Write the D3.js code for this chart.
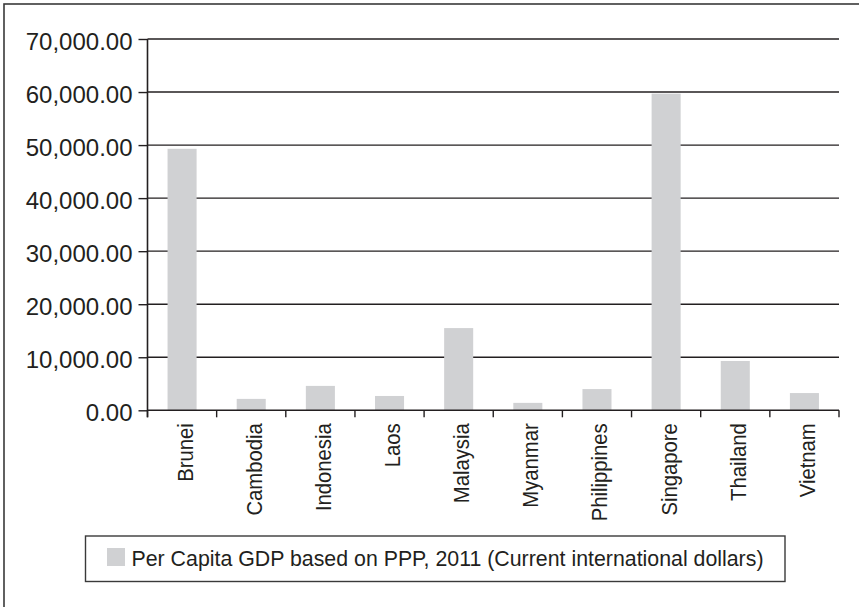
<!DOCTYPE html>
<html>
<head>
<meta charset="utf-8">
<script src="https://cdn.jsdelivr.net/npm/d3@7"></script>
<style>
  html, body { margin: 0; padding: 0; background: #ffffff; }
  svg { display: block; }
  text { font-family: "Liberation Sans", Arial, Helvetica, sans-serif; fill: #231f20; }
</style>
</head>
<body>
<svg id="chart" width="859" height="607"></svg>
<script>
// Per capita GDP (PPP, 2011, current international dollars) for ASEAN members
const countries = ["Brunei", "Cambodia", "Indonesia", "Laos", "Malaysia",
                   "Myanmar", "Philippines", "Singapore", "Thailand", "Vietnam"];
const gdpPerCapita = [49300, 2150, 4600, 2700, 15500, 1400, 4000, 59700, 9300, 3250];
const yTicks = [0, 10000, 20000, 30000, 40000, 50000, 60000, 70000];
const legendLabel = "Per Capita GDP based on PPP, 2011 (Current international dollars)";

const data = countries.map((c, i) => ({ country: c, value: gdpPerCapita[i] }));

const svg = d3.select("#chart");
const ink = "#231f20";
const barFill = "#d0d1d3";

// Outer frame (runs off the right and bottom edges)
svg.append("rect")
  .attr("x", 4).attr("y", 4)
  .attr("width", 900).attr("height", 700)
  .attr("fill", "none")
  .attr("stroke", "#3a3a3a")
  .attr("stroke-width", 1.6);

const plot = { left: 147.5, right: 839, top: 39, bottom: 410.3 };

const x = d3.scaleBand()
  .domain(countries)
  .range([plot.left, plot.right])
  .paddingInner(0.58)
  .paddingOuter(0.29);

const y = d3.scaleLinear()
  .domain([0, 70000])
  .range([plot.bottom, plot.top]);

const fmt = d3.format(",.2f");

// Horizontal gridlines
svg.append("g")
  .selectAll("line")
  .data(yTicks.filter(v => v > 0))
  .join("line")
  .attr("x1", plot.left).attr("x2", plot.right)
  .attr("y1", d => y(d)).attr("y2", d => y(d))
  .attr("stroke", ink)
  .attr("stroke-width", 1.4);

// Bars
svg.append("g")
  .selectAll("rect")
  .data(data)
  .join("rect")
  .attr("x", d => x(d.country))
  .attr("width", x.bandwidth())
  .attr("y", d => y(d.value))
  .attr("height", d => y(0) - y(d.value))
  .attr("fill", barFill);

// Y axis
const yAxis = svg.append("g")
  .attr("transform", `translate(${plot.left},0)`)
  .call(d3.axisLeft(y).tickValues(yTicks).tickFormat(fmt).tickSize(9).tickPadding(6));
yAxis.select(".domain").remove();
yAxis.append("line")
  .attr("x1", 0).attr("x2", 0)
  .attr("y1", plot.top).attr("y2", plot.bottom + 7)
  .attr("stroke", ink).attr("stroke-width", 1.6);
yAxis.selectAll(".tick line").attr("stroke", ink).attr("stroke-width", 1.4);
yAxis.selectAll(".tick text")
  .attr("fill", ink)
  .attr("font-size", "24px")
  .attr("font-family", "Liberation Sans, Arial, sans-serif")
  .attr("dy", "0.42em");

// X axis: baseline, boundary ticks between categories, rotated labels
const xAxis = svg.append("g");
xAxis.append("line")
  .attr("x1", plot.left).attr("x2", plot.right)
  .attr("y1", plot.bottom).attr("y2", plot.bottom)
  .attr("stroke", ink).attr("stroke-width", 1.6);

const boundaries = d3.range(countries.length + 1).map(i => plot.left + i * x.step());
xAxis.selectAll("line.tick")
  .data(boundaries)
  .join("line")
  .attr("class", "tick")
  .attr("x1", d => d).attr("x2", d => d)
  .attr("y1", plot.bottom).attr("y2", plot.bottom + 7)
  .attr("stroke", ink).attr("stroke-width", 1.4);

// Category labels: slightly narrowed glyphs
xAxis.selectAll("text")
  .data(countries)
  .join("text")
  .attr("transform", d => `translate(${x(d) + x.bandwidth() / 2 + 10.5},${plot.bottom + 13}) rotate(-90)`)
  .attr("text-anchor", "end")
  .attr("font-size", "22px")
  .text(d => d)
  .each(function () {
    const w = this.getComputedTextLength();
    d3.select(this)
      .attr("textLength", w * 0.92)
      .attr("lengthAdjust", "spacingAndGlyphs");
  });

// Legend
const legend = svg.append("g");
legend.append("rect")
  .attr("x", 85.5).attr("y", 536)
  .attr("width", 699.5).attr("height", 45.5)
  .attr("fill", "none")
  .attr("stroke", "#3a3a3a")
  .attr("stroke-width", 1.4);
legend.append("rect")
  .attr("x", 107).attr("y", 548)
  .attr("width", 18).attr("height", 18)
  .attr("fill", barFill);
legend.append("text")
  .attr("x", 131.5).attr("y", 565.5)
  .attr("font-size", "21.5px")
  .attr("textLength", 632)
  .attr("lengthAdjust", "spacingAndGlyphs")
  .text(legendLabel);
</script>
</body>
</html>
